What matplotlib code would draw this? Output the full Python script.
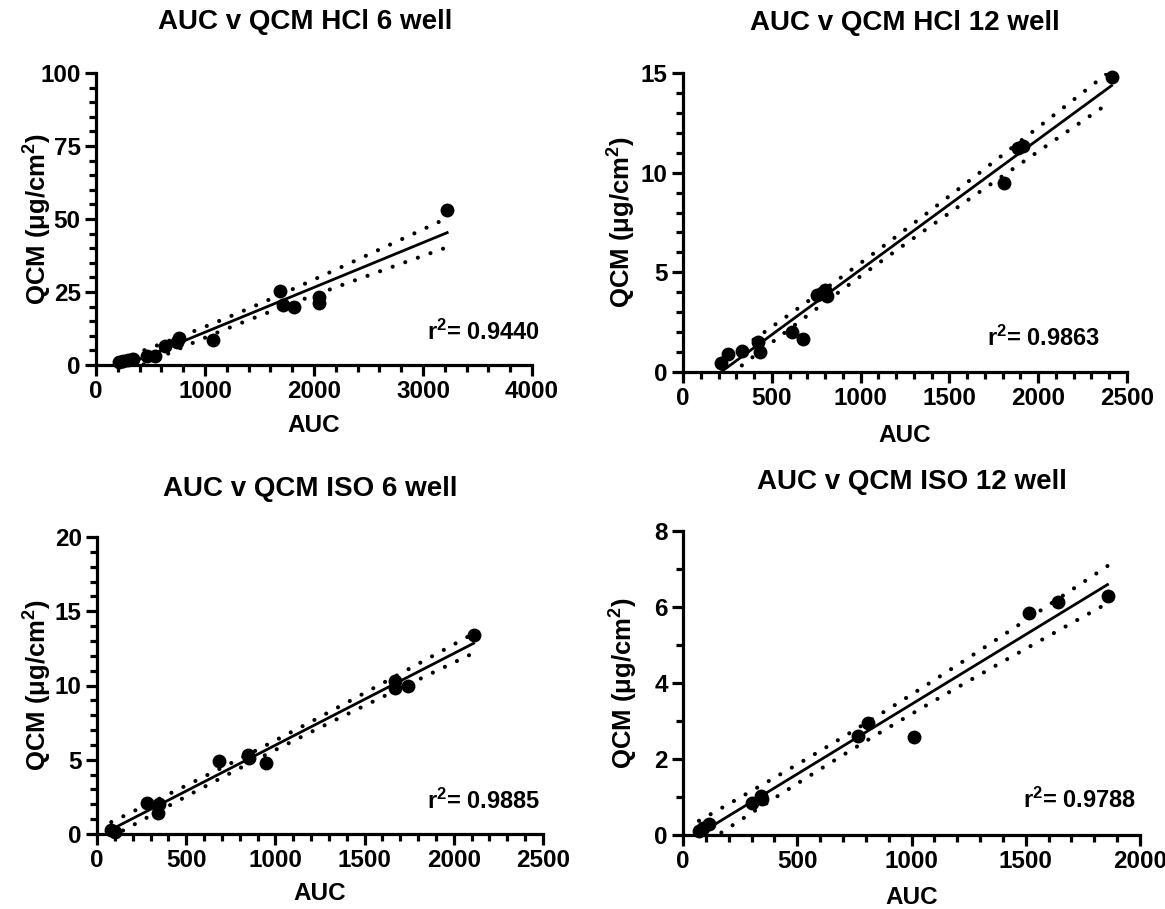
import numpy as np
import matplotlib
matplotlib.use("Agg")
import matplotlib.pyplot as plt
from matplotlib.ticker import MultipleLocator

plt.rcParams['font.family'] = ['Liberation Sans', 'DejaVu Sans']
plt.rcParams['font.weight'] = 'bold'
plt.rcParams['mathtext.fontset'] = 'custom'
plt.rcParams['mathtext.rm'] = 'Liberation Sans:bold'
plt.rcParams['mathtext.bf'] = 'Liberation Sans:bold'
plt.rcParams['mathtext.default'] = 'rm'

# ---------------- data ----------------
titles = ["AUC v QCM HCl 6 well", "AUC v QCM HCl 12 well",
          "AUC v QCM ISO 6 well", "AUC v QCM ISO 12 well"]
r2_labels = ["0.9440", "0.9863", "0.9885", "0.9788"]

hcl6_auc = [214, 251, 297, 343, 471, 542, 633, 740, 760, 1073, 1690, 1720, 1815, 2044, 2044, 3222]
hcl6_qcm = [1.0, 1.3, 1.6, 2.1, 3.1, 3.1, 6.4, 8.0, 9.4, 8.7, 25.4, 20.6, 19.8, 23.2, 21.4, 53.0]

hcl12_auc = [212, 254, 334, 425, 432, 615, 673, 755, 780, 800, 808, 1810, 1888, 1915, 2413]
hcl12_qcm = [0.43, 0.90, 1.07, 1.52, 0.98, 2.02, 1.68, 3.85, 3.98, 4.12, 3.82, 9.5, 11.25, 11.35, 14.8]

iso6_auc = [80, 100, 278, 345, 342, 685, 844, 850, 945, 1673, 1673, 1742, 2111]
iso6_qcm = [0.25, 0.15, 2.08, 2.0, 1.40, 4.9, 5.35, 5.1, 4.8, 10.3, 9.85, 10.0, 13.37]

iso12_auc = [70, 88, 114, 304, 340, 346, 765, 811, 1012, 1516, 1640, 1858]
iso12_qcm = [0.10, 0.18, 0.28, 0.84, 1.03, 0.95, 2.61, 2.95, 2.59, 5.84, 6.12, 6.28]

x_limits = [4000, 2500, 2500, 2000]
y_limits = [100, 15, 20, 8]
x_major = [1000, 500, 500, 500]
x_minor = [200, 100, 100, 100]
y_major = [25, 5, 5, 2]
y_minor = [5, 1, 1, 1]

# two-sided 95% t critical values by degrees of freedom
t95 = {10: 2.228, 11: 2.201, 12: 2.179, 13: 2.160, 14: 2.145}

# ---------------- layout (pixels) ----------------
W, H = 1165, 909
boxes = [(96, 532, 73, 365), (683, 1127, 73, 372),
         (97, 543, 537, 834), (683, 1140, 531, 835)]
title_pos = [(305, 22), (905, 23), (310, 489), (912, 482)]
ylabel_x = [54, 638, 54, 640]
xlabel_y = [426, 435, 894, 898]
r2_pos = [(540, 332), (1100, 338), (540, 801), (1136, 800)]

fig = plt.figure(figsize=(W / 100, H / 100), dpi=100)

datasets = [(hcl6_auc, hcl6_qcm), (hcl12_auc, hcl12_qcm),
            (iso6_auc, iso6_qcm), (iso12_auc, iso12_qcm)]

for i, (xs, ys) in enumerate(datasets):
    l, r, t, b = boxes[i]
    ax = fig.add_axes([l / W, 1 - b / H, (r - l) / W, (b - t) / H])
    x = np.array(xs, float)
    y = np.array(ys, float)
    n = len(x)
    slope, icpt = np.polyfit(x, y, 1)
    xx = np.linspace(x.min(), x.max(), 200)
    yy = slope * xx + icpt
    resid = y - (slope * x + icpt)
    s = np.sqrt(np.sum(resid ** 2) / (n - 2))
    sxx = np.sum((x - x.mean()) ** 2)
    se = s * np.sqrt(1 / n + (xx - x.mean()) ** 2 / sxx)
    hw = t95[n - 2] * se

    ax.plot(xx, yy, color='black', lw=2.0, zorder=3)
    for band in (yy + hw, yy - hw):
        ax.plot(xx, band, color='black', lw=3.0, linestyle=(0, (0.01, 3.2)),
                dash_capstyle='round', zorder=3)
    ax.scatter(x, y, s=100, color='black', zorder=4, clip_on=False, linewidths=0)

    ax.set_xlim(0, x_limits[i])
    ax.set_ylim(0, y_limits[i])
    ax.xaxis.set_major_locator(MultipleLocator(x_major[i]))
    ax.xaxis.set_minor_locator(MultipleLocator(x_minor[i]))
    ax.yaxis.set_major_locator(MultipleLocator(y_major[i]))
    ax.yaxis.set_minor_locator(MultipleLocator(y_minor[i]))
    for sp in ('top', 'right'):
        ax.spines[sp].set_visible(False)
    for sp in ('left', 'bottom'):
        ax.spines[sp].set_linewidth(2.3)
    ax.tick_params(which='major', length=8, width=2.3, labelsize=17.5, pad=3)
    ax.tick_params(which='minor', length=5, width=2.3)
    for lab in ax.get_xticklabels() + ax.get_yticklabels():
        lab.set_fontweight('bold')

    ax.set_xlabel("AUC", fontsize=17.5, fontweight='bold')
    ax.xaxis.set_label_coords(((l + r) / 2) / W, 1 - xlabel_y[i] / H, transform=fig.transFigure)
    ax.xaxis.label.set_va('center')
    ax.set_ylabel(r"QCM ($\mu$g/cm$^{2}$)", fontsize=18.5, fontweight='bold')
    ax.yaxis.set_label_coords(ylabel_x[i] / W, 1 - ((t + b) / 2) / H, transform=fig.transFigure)

    tx, ty = title_pos[i]
    fig.text(tx / W, 1 - ty / H, titles[i], ha='center', va='center',
             fontsize=20, fontweight='bold')
    rx, ry = r2_pos[i]
    fig.text(rx / W, 1 - ry / H, r"r$^{2}$= " + r2_labels[i], ha='right', va='center',
             fontsize=17, fontweight='bold')

fig.savefig("out.png", dpi=100)
